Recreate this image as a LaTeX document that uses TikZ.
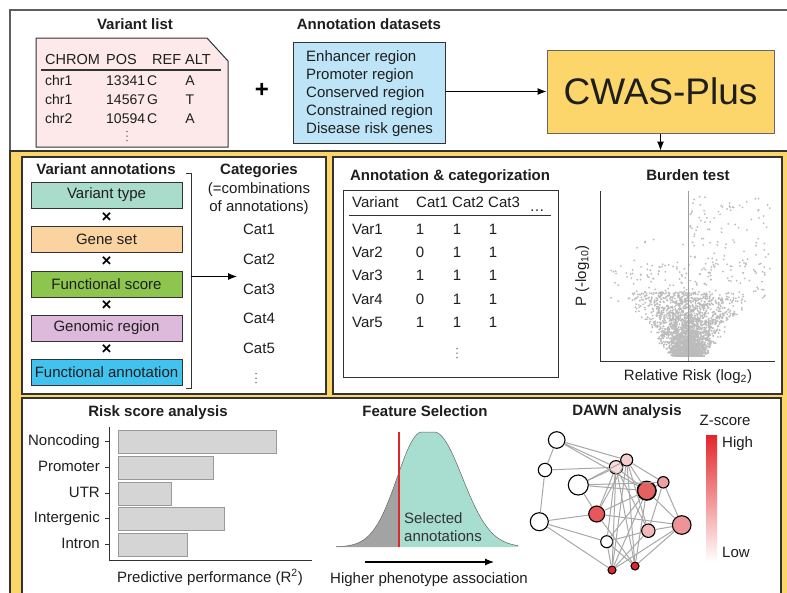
\documentclass[tikz,border=0pt]{standalone}
\usepackage{fontspec}
\setmainfont{Liberation Sans}
\usetikzlibrary{arrows.meta}
\definecolor{yelbg}{HTML}{FCD669}
\definecolor{pnl}{HTML}{333333}
\definecolor{topc}{HTML}{5E5E5E}
\definecolor{pinkf}{HTML}{FDE9E9}
\definecolor{bluef}{HTML}{BEE5F7}
\definecolor{cwasf}{HTML}{FCD66A}
\definecolor{cvt}{HTML}{A9DCCA}
\definecolor{cgs}{HTML}{FBD3A1}
\definecolor{cfs}{HTML}{8DC54F}
\definecolor{cgr}{HTML}{DDBADB}
\definecolor{cfa}{HTML}{40C3EE}
\definecolor{barf}{HTML}{D5D5D5}
\definecolor{barb}{HTML}{999999}
\definecolor{tealf}{HTML}{A7DECF}
\definecolor{grayf}{HTML}{A3A3A3}
\definecolor{dotc}{HTML}{BBBBBB}
\definecolor{zred}{HTML}{E3262B}
\definecolor{edgec}{HTML}{A8A8A8}
\definecolor{txtc}{HTML}{1E1E1E}
\newcommand{\vdotsat}[2]{\fill[gray!60!black] (#1,#2-4.5) circle (0.75) (#1,#2) circle (0.75) (#1,#2+4.5) circle (0.75);}
\begin{document}
\begin{tikzpicture}[x=1pt,y=-1pt,
  txt/.style={font=\fontsize{15}{18}\selectfont, inner sep=0pt, text height=11pt, text depth=3pt, text=txtc},
  rowtxt/.style={font=\fontsize{14}{16}\selectfont, inner sep=0pt, text height=10.5pt, text depth=3pt, text=txtc},
  ttl/.style={font=\bfseries\fontsize{15}{18}\selectfont, inner sep=0pt, text height=11pt, text depth=3pt, text=txtc},
  annbox/.style={draw=pnl, line width=1pt, minimum width=151pt, minimum height=26pt, inner sep=0pt, font=\fontsize{15}{18}\selectfont, text=txtc},
  timesym/.style={font=\bfseries\fontsize{17}{18}\selectfont, inner sep=0pt},
  arr/.style={-{Latex[length=9pt,width=7pt]}, line width=1.1pt},
  panelbox/.style={draw=pnl, line width=1.2pt, fill=white},
  bar/.style={fill=barf, draw=barb, line width=0.8pt},
  dnode/.style={circle, draw=black, line width=1.1pt, inner sep=0pt},
  dedge/.style={draw=edgec, line width=1pt},
  declare function={fd(\t)=max(abs(\t-428)-6,0)/(35+5*(\t>428)); fy(\t)=547-115*exp(-(fd(\t)*fd(\t)));}
]
\useasboundingbox (0,0) rectangle (787,592);
\clip (0,0) rectangle (787,592);
\fill[white] (0,0) rectangle (787,592);

% ---------------- top section
\draw[topc, line width=1.3pt, fill=white] (10,10) rectangle (800,151);
\node[ttl] (vltitle) at (135,25) {Variant list};
\draw[pnl, line width=1pt, fill=pinkf] (36,38) -- (207,38) -- (228,61) -- (228,147) -- (36,147) -- cycle;
\node[txt, font=\fontsize{14.5}{17}\selectfont, anchor=west] (hchrom) at (45,60) {CHROM};
\node[txt, font=\fontsize{14.5}{17}\selectfont, anchor=west] (hpos) at (106,60) {POS};
\node[txt, font=\fontsize{14.5}{17}\selectfont, anchor=west] (hrefalt) at (152,60) {REF ALT};
\draw[pnl, line width=1.2pt] (41,70) -- (221,70);
\node[rowtxt, anchor=west] (r1a) at (45,82) {chr1};
\node[rowtxt, anchor=west] (r1b) at (106,82) {13341};
\node[rowtxt, anchor=west] (r1c) at (147,82) {C};
\node[rowtxt] (r1d) at (190,82) {A};
\node[rowtxt, anchor=west] (r2a) at (45,101) {chr1};
\node[rowtxt, anchor=west] (r2b) at (106,101) {14567};
\node[rowtxt, anchor=west] (r2c) at (147,101) {G};
\node[rowtxt] (r2d) at (190,101) {T};
\node[rowtxt, anchor=west] (r3a) at (45,120) {chr2};
\node[rowtxt, anchor=west] (r3b) at (106,120) {10594};
\node[rowtxt, anchor=west] (r3c) at (147,120) {C};
\node[rowtxt] (r3d) at (190,120) {A};
\vdotsat{127}{136}

\node[inner sep=0pt, font=\bfseries\fontsize{24}{24}\selectfont] (plus) at (262,90) {+};

\node[ttl] (adtitle) at (369,25) {Annotation datasets};
\node[draw=pnl, line width=1pt, fill=bluef, minimum width=152pt, minimum height=101pt, inner sep=0pt] (blue) at (369,92.5) {};
\node[txt, anchor=west] (b1) at (306,57) {Enhancer region};
\node[txt, anchor=west] (b2) at (306,75) {Promoter region};
\node[txt, anchor=west] (b3) at (306,93) {Conserved region};
\node[txt, anchor=west] (b4) at (306,111) {Constrained region};
\node[txt, anchor=west] (b5) at (306,129) {Disease risk genes};

\node[draw=gray!80!black, line width=1pt, fill=cwasf, minimum width=227pt, minimum height=83pt, inner sep=0pt, font=\fontsize{37}{37}\selectfont, text=txtc] (cwas) at (660.5,91.5) {CWAS-Plus};
\draw[arr] (blue.east |- cwas.west) -- (cwas.west);

% ---------------- yellow section
\draw[pnl, line width=1.3pt, fill=yelbg] (10,151) rectangle (800,600);
\coordinate (ytop) at (660.5,150.5);
\draw[arr] (cwas.south) -- (ytop);

\draw[panelbox] (22,157) rectangle (326,394);
\draw[panelbox] (333,157) rectangle (782,394);
\draw[panelbox] (22,398) rectangle (781,600);

% ---------------- panel 1
\node[ttl] (vatitle) at (106,170) {Variant annotations};
\node[annbox, fill=cvt] (a1) at (106.5,195) {Variant type};
\node[annbox, fill=cgs] (a2) at (106.5,239.5) {Gene set};
\node[annbox, fill=cfs] (a3) at (106.5,284) {Functional score};
\node[annbox, fill=cgr] (a4) at (106.5,328) {Genomic region};
\node[annbox, fill=cfa] (a5) at (106.5,372) {Functional annotation};
\node[timesym] (x1) at (106.5,217.5) {×};
\node[timesym] (x2) at (106.5,261.5) {×};
\node[timesym] (x3) at (106.5,306) {×};
\node[timesym] (x4) at (106.5,350) {×};
\draw[pnl, line width=1pt] (186,173) -- (191,173) -- (191,388) -- (186,388);
\coordinate (brk) at (191,276.5);
\coordinate (catin) at (237,276.5);
\draw[arr] (brk) -- (catin);
\node[ttl] (cattitle) at (259,170) {Categories};
\node[txt] (catsub1) at (259,189) {(=combinations};
\node[txt] (catsub2) at (259,207) {of annotations)};
\node[txt] (c1) at (259,230) {Cat1};
\node[txt] (c2) at (259,260) {Cat2};
\node[txt] (c3) at (259,290) {Cat3};
\node[txt] (c4) at (259,319) {Cat4};
\node[txt] (c5) at (259,349) {Cat5};
\vdotsat{256}{378}

% ---------------- panel 2
\node[ttl] (actitle) at (450,176) {Annotation \& categorization};
\draw[pnl, line width=1pt] (343,190) rectangle (558,377);
\node[txt, anchor=west] (tv) at (352,203) {Variant};
\node[txt, anchor=west] (tc1) at (416,203) {Cat1};
\node[txt, anchor=west] (tc2) at (452,203) {Cat2};
\node[txt, anchor=west] (tc3) at (488,203) {Cat3};
\node[txt] (tdots) at (537,207) {…};
\draw[pnl, line width=1.2pt] (349,215.5) -- (551,215.5);
\foreach \n/\yy/\va/\vb/\vc in {1/230/1/1/1, 2/253/0/1/1, 3/276/1/1/1, 4/300/0/1/1, 5/323/1/1/1}{
  \node[txt, anchor=west] (var\n) at (352,\yy) {Var\n};
  \node[txt] (va\n) at (420,\yy) {\va};
  \node[txt] (vb\n) at (457,\yy) {\vb};
  \node[txt] (vc\n) at (493,\yy) {\vc};
}
\vdotsat{457}{353}

\node[ttl] (bttitle) at (688,176) {Burden test};
% scatter
\pgfmathsetseed{7}
\foreach \i in {1,...,2500}{
  \pgfmathsetmacro{\bb}{rnd^1.6}
  \pgfmathsetmacro{\yy}{356-64*\bb}
  \pgfmathsetmacro{\xx}{688+(18+54*\bb)*(rand+rand)/2}
  \fill[dotc] (\xx,\yy) circle (1.0);
}
\foreach \i in {1,...,150}{
  \pgfmathsetmacro{\yy}{262+40*rnd}
  \pgfmathsetmacro{\xx}{688+78*rand}
  \fill[dotc] (\xx,\yy) circle (1.0);
}
\foreach \i in {1,...,100}{
  \pgfmathsetmacro{\yy}{195+80*rnd}
  \pgfmathsetmacro{\xx}{690+80*rnd^1.3}
  \fill[dotc] (\xx,\yy) circle (1.0);
}
\foreach \i in {1,...,12}{
  \pgfmathsetmacro{\yy}{235+50*rnd}
  \pgfmathsetmacro{\xx}{688-60*rnd}
  \fill[dotc] (\xx,\yy) circle (1.0);
}
\draw[gray!75, line width=0.8pt] (688,191) -- (688,361);
\draw[pnl, line width=1pt] (600.5,191) -- (600.5,361) -- (775,361);
\node[txt, rotate=90] (ylab) at (582,276) {P (-log\textsubscript{10})};
\node[txt] (xlab) at (688,376) {Relative Risk (log\textsubscript{2})};

% ---------------- panel 3: risk score
\node[ttl] (rstitle) at (158,412) {Risk score analysis};
\draw[bar] (118,430) rectangle (276,453);
\draw[bar] (118,456) rectangle (213,479);
\draw[bar] (118,482) rectangle (171,505);
\draw[bar] (118,507.5) rectangle (224,530.5);
\draw[bar] (118,533) rectangle (187,556);
\draw[pnl, line width=1pt] (109,427) -- (109,560) -- (312,560);
\foreach \lab/\yy/\nm in {Noncoding/441/l1, Promoter/467/l2, UTR/493/l3, Intergenic/518/l4, Intron/544/l5}{
  \node[txt, anchor=east] (\nm) at (100,\yy) {\lab};
  \draw[pnl, line width=0.8pt] (105,\yy) -- (109,\yy);
}
\node[txt] (pplab) at (210,578) {Predictive performance (R\textsuperscript{2})};

% ---------------- feature selection
\node[ttl] (fstitle) at (425,412) {Feature Selection};
\fill[grayf] (336,547) -- plot[domain=336:399, samples=60] (\x,{fy(\x)}) -- (399,547) -- cycle;
\fill[tealf] (399,547) -- plot[domain=399:518, samples=100] (\x,{fy(\x)}) -- (518,547) -- cycle;
\draw[gray!80!black, line width=0.5pt] plot[domain=336:518, samples=150] (\x,{fy(\x)});
\draw[zred, line width=1.3pt] (399,432) -- (399,547);
\node[txt, anchor=west, text=black!80] (sel1) at (404,519) {Selected};
\node[txt, anchor=west, text=black!80] (sel2) at (404,537) {annotations};
\coordinate (hpa1) at (365,562);
\coordinate (hpa2) at (494,562);
\draw[arr] (hpa1) -- (hpa2);
\node[txt] (hpalab) at (429,579) {Higher phenotype association};

% ---------------- DAWN
\node[ttl] (dwtitle) at (627,411) {DAWN analysis};
\node[txt] (zs) at (725,421) {Z-score};
\shade[top color=zred, bottom color=white] (706,435) rectangle (717,562);
\node[txt, anchor=west] (zhigh) at (722,443) {High};
\node[txt, anchor=west] (zlow) at (722,553) {Low};

\node[dnode, fill=white, minimum size=16.6pt] (d1) at (556.7,440) {};
\node[dnode, fill=white, minimum size=13.4pt] (d2) at (545,470) {};
\node[dnode, fill=white, minimum size=20pt] (d3) at (578.3,485) {};
\node[dnode, fill=white, minimum size=18pt] (d4) at (539.3,521.7) {};
\node[dnode, fill=white, minimum size=12pt] (d5) at (606.7,541.7) {};
\node[dnode, fill={rgb,255:red,232;green,87;blue,91}, minimum size=16pt] (d6) at (596.7,514) {};
\node[dnode, fill={rgb,255:red,249;green,220;blue,220}, minimum size=13.4pt] (d7) at (616,467.3) {};
\node[dnode, fill={rgb,255:red,246;green,205;blue,205}, minimum size=12pt] (d8) at (626.7,460) {};
\node[dnode, fill={rgb,255:red,229;green,96;blue,95}, minimum size=18.6pt, line width=1.6pt] (d9) at (646.7,490.7) {};
\node[dnode, fill={rgb,255:red,238;green,159;blue,161}, minimum size=11.4pt] (d10) at (663.3,482.3) {};
\node[dnode, fill={rgb,255:red,243;green,184;blue,186}, minimum size=13.4pt] (d11) at (648.3,530.7) {};
\node[dnode, fill={rgb,255:red,238;green,147;blue,151}, minimum size=18.6pt] (d12) at (681.7,525) {};
\node[dnode, fill=zred, minimum size=8pt] (d13) at (612,570) {};
\node[dnode, fill=zred, minimum size=8pt] (d14) at (635,566) {};
\foreach \a/\b in {d1/d2, d1/d7, d1/d8, d1/d9, d2/d7, d2/d4, d3/d9, d3/d7, d3/d8, d3/d10, d4/d6, d4/d13, d4/d5,
  d6/d7, d6/d9, d6/d14, d6/d12, d7/d13, d7/d14, d7/d9, d7/d11, d7/d5, d8/d13, d8/d14, d8/d11, d8/d9, d8/d10,
  d9/d13, d9/d14, d9/d5, d9/d12, d10/d12, d10/d11, d10/d9, d11/d12, d11/d13, d11/d5, d12/d14, d12/d13,
  d5/d13, d5/d14, d8/d6, d3/d6}{
  \draw[dedge] (\a) -- (\b);
}
\end{tikzpicture}
\end{document}
